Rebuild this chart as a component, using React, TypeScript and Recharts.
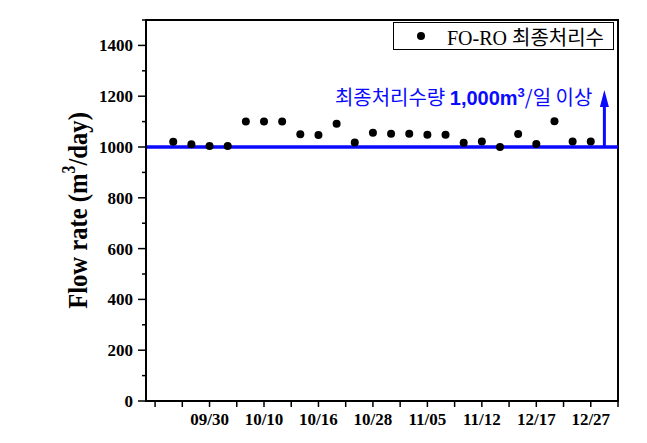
import React from 'react';
import {
  ScatterChart, Scatter, XAxis, YAxis, ReferenceLine, ReferenceArea, Legend,
} from 'recharts';

// 일별 최종처리수 유량 (m3/day), 측정 순서대로
const flowValues = [
  1021, 1011, 1004, 1004, 1100, 1100, 1100, 1050, 1047, 1092, 1018, 1056,
  1052, 1052, 1048, 1048, 1017, 1022, 1000, 1051, 1012, 1101, 1022, 1022,
];

// 날짜 라벨과 그 위치(측정 순번)
const dateLabels = ['09/30', '10/10', '10/16', '10/28', '11/05', '11/12', '12/17', '12/27'];
const dateLabelIndex = [2, 5, 8, 11, 14, 17, 20, 23];

const xTicks = [-1, 0.5, 2, 3.5, 5, 6.5, 8, 9.5, 11, 12.5, 14, 15.5, 17, 18.5, 20, 21.5, 23, 24.5];
const yTicks = [0, 100, 200, 300, 400, 500, 600, 700, 800, 900, 1000, 1100, 1200, 1300, 1400, 1500];

const target = 1000;
const arrowX = 23.75;
const arrowTop = 1224;

const data = flowValues.map((v, i) => ({ x: i, y: v }));

const SERIF = "'Liberation Serif', 'Times New Roman', 'Noto Sans CJK KR', serif";
const SANS = "'Liberation Sans', Arial, sans-serif";
const BLUE = '#0a0aff';

function YTick({ x, y, payload }: any) {
  const major = payload.value % 200 === 0;
  return (
    <g>
      <line x1={x} x2={x - (major ? 8 : 4)} y1={y} y2={y} stroke="#000" strokeWidth={1.5} />
      {major && payload.value !== 1500 && (
        <text x={x - 13} y={y} dy={6} textAnchor="end" fontFamily={SERIF} fontWeight="bold" fontSize={17} fill="#000">
          {payload.value}
        </text>
      )}
    </g>
  );
}

function XTick({ x, y, payload }: any) {
  const idx = dateLabelIndex.indexOf(payload.value);
  return (
    <g>
      <line x1={x} x2={x} y1={y} y2={y + 6} stroke="#000" strokeWidth={1.5} />
      {idx >= 0 && (
        <text x={x} y={y + 24} textAnchor="middle" fontFamily={SERIF} fontWeight="bold" fontSize={17} fill="#000">
          {dateLabels[idx]}
        </text>
      )}
    </g>
  );
}

function YTitle({ viewBox }: any) {
  const cx = 87;
  const cy = viewBox.y + viewBox.height / 2;
  return (
    <text x={0} y={0} transform={`translate(${cx}, ${cy}) rotate(-90) scale(0.88, 1)`} textAnchor="middle"
      fontFamily={SERIF} fontWeight="bold" fontSize={28} fill="#000">
      Flow rate (m<tspan dy={-12} fontSize={18}>3</tspan><tspan dy={12}>/day)</tspan>
    </text>
  );
}

function Arrow(props: any) {
  const x = props.x1;
  const yTop = Math.min(props.y1, props.y2);
  const yBot = Math.max(props.y1, props.y2);
  return (
    <g>
      <line x1={x} x2={x} y1={yBot} y2={yTop + 12} stroke={BLUE} strokeWidth={3} />
      <polygon points={`${x},${yTop} ${x - 4.5},${yTop + 17} ${x + 4.5},${yTop + 17}`} fill={BLUE} />
      <text x={x - 12} y={yTop + 15} textAnchor="end" fill={BLUE} fontSize={20}
        fontFamily="'Noto Sans CJK KR', sans-serif">
        최종처리수량 <tspan fontFamily={SANS} fontWeight="bold" fontSize={20}>1,000m</tspan>
        <tspan dy={-8} fontSize={13} fontWeight="bold" fontFamily={SANS}>3</tspan>
        <tspan dy={8}>/일 이상</tspan>
      </text>
    </g>
  );
}

function LegendBox() {
  return (
    <div style={{
      width: 221, height: 28, border: '1px solid #000', background: '#fff',
      display: 'flex', alignItems: 'center', boxSizing: 'border-box',
    }}>
      <span style={{ width: 8, height: 8, borderRadius: 4, background: '#000', marginLeft: 23, marginRight: 22 }} />
      <span style={{ fontFamily: SERIF, fontSize: 20, color: '#000', whiteSpace: 'nowrap' }}>FO-RO 최종처리수</span>
    </div>
  );
}

export default function App() {
  return (
    <div style={{ position: 'absolute', left: 0, top: 0, background: '#fff' }}>
      <ScatterChart width={647} height={443} margin={{ top: 20, right: 29, bottom: 0, left: 0 }}>
        <XAxis type="number" dataKey="x" domain={[-1.5, 24.5]} ticks={xTicks} interval={0}
          tick={<XTick />} tickLine={false} tickSize={0} tickMargin={0} height={42}
          axisLine={{ stroke: '#000', strokeWidth: 2 }} allowDataOverflow />
        <YAxis type="number" dataKey="y" domain={[0, 1500]} ticks={yTicks} interval={0}
          tick={<YTick />} tickLine={false} tickSize={0} tickMargin={0} width={146}
          axisLine={{ stroke: '#000', strokeWidth: 2 }} allowDataOverflow
          label={{ content: (p: any) => <YTitle {...p} /> }} />
        <ReferenceArea x1={-1.5} x2={24.5} y1={0} y2={1500} fill="none" stroke="#000" strokeWidth={2} ifOverflow="visible" />
        <ReferenceLine y={target} stroke={BLUE} strokeWidth={3.5} />
        <ReferenceLine segment={[{ x: arrowX, y: target }, { x: arrowX, y: arrowTop }]} shape={(p: any) => <Arrow {...p} />} ifOverflow="visible" />
        <Scatter data={data} isAnimationActive={false}
          shape={(p: any) => <circle cx={p.cx} cy={p.cy} r={4} fill="#000" />} />
        <Legend layout="horizontal" verticalAlign="middle" align="center" content={() => <LegendBox />}
          wrapperStyle={{ left: 393, top: 22, width: 221, height: 28 }} />
      </ScatterChart>
    </div>
  );
}
